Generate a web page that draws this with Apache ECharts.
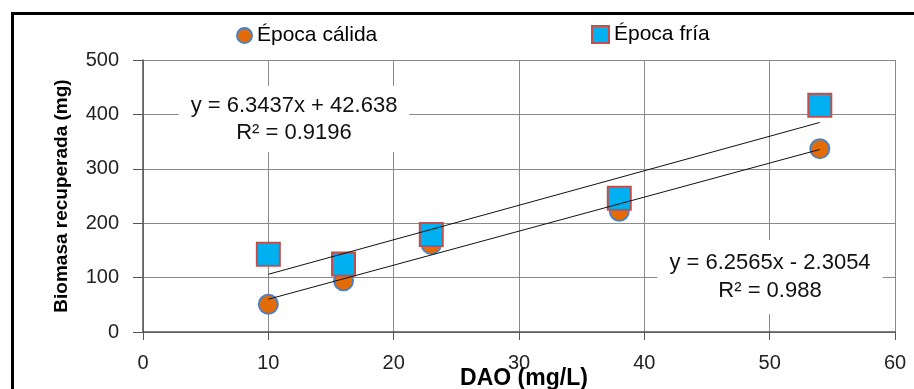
<!DOCTYPE html>
<html>
<head>
<meta charset="utf-8">
<script src="https://cdn.jsdelivr.net/npm/echarts@6/dist/echarts.min.js"></script>
<style>
html,body{margin:0;padding:0;background:#fff;}
#chart{width:914px;height:389px;}
</style>
</head>
<body>
<div id="chart"></div>
<script>
// Data
const dao = [10, 16, 23, 38, 54];
const calida = [51, 94, 161, 222, 337];
const fria = [143, 125, 179, 246, 417];
const calidaFit = [6.2565, -2.3054];   // slope, intercept
const friaFit = [6.3437, 42.638];
const fitRange = [10, 54];
const xTicks = [0, 10, 20, 30, 40, 50, 60];
const yTicks = [0, 100, 200, 300, 400, 500];
const seriesNames = ['Época cálida', 'Época fría'];
const eqCalida = ['y = 6.2565x - 2.3054', 'R² = 0.988'];
const eqFria = ['y = 6.3437x + 42.638', 'R² = 0.9196'];

const FONT = '"Liberation Sans", Arial, sans-serif';
const chart = echarts.init(document.getElementById('chart'), null, {renderer: 'canvas'});

function fitLine(fit) {
  return fitRange.map(x => [x, fit[0] * x + fit[1]]);
}

const option = {
  animation: false,
  backgroundColor: '#fff',
  grid: {left: 143, right: 19, top: 60, bottom: 57, show: false, containLabel: false, outerBoundsMode: 'none'},
  legend: [
    {data: [seriesNames[0]], left: 231, top: 20, itemWidth: 15, itemHeight: 15, itemGap: 0,
     textStyle: {fontFamily: FONT, fontSize: 21, color: '#000'}},
    {data: [seriesNames[1]], left: 586, top: 19, itemWidth: 17, itemHeight: 17, itemGap: 0,
     textStyle: {fontFamily: FONT, fontSize: 21, color: '#000'}}
  ],
  xAxis: {
    type: 'value', min: xTicks[0], max: xTicks[xTicks.length - 1], interval: 10,
    name: 'DAO (mg/L)', nameLocation: 'middle', nameGap: 35, nameMoveOverlap: false,
    nameTextStyle: {fontFamily: FONT, fontSize: 23, fontWeight: 'bold', color: '#000', padding: [0, 0, 0, 10]},
    axisLine: {show: true, onZero: false, lineStyle: {color: '#555', width: 1.5}},
    axisTick: {show: true, length: 8, lineStyle: {color: '#555'}},
    axisLabel: {fontFamily: FONT, fontSize: 20, color: '#222', margin: 21},
    splitLine: {show: true, lineStyle: {color: '#8a8a8a', width: 1}}
  },
  yAxis: {
    type: 'value', min: yTicks[0], max: yTicks[yTicks.length - 1], interval: 100,
    name: 'Biomasa recuperada (mg)', nameLocation: 'middle', nameGap: 72, nameRotate: 90, nameMoveOverlap: false,
    nameTextStyle: {fontFamily: FONT, fontSize: 19, fontWeight: 'bold', color: '#000'},
    axisLine: {show: true, onZero: false, lineStyle: {color: '#555', width: 1.5}},
    axisTick: {show: true, length: 10, lineStyle: {color: '#555'}},
    axisLabel: {fontFamily: FONT, fontSize: 20, color: '#222', margin: 24},
    splitLine: {show: true, lineStyle: {color: '#8a8a8a', width: 1}}
  },
  series: [
    {name: 'fitCalida', type: 'line', data: fitLine(calidaFit), symbol: 'none', silent: true,
     lineStyle: {color: '#111', width: 1}, z: 3},
    {name: 'fitFria', type: 'line', data: fitLine(friaFit), symbol: 'none', silent: true,
     lineStyle: {color: '#111', width: 1}, z: 3},
    {name: seriesNames[0], type: 'scatter', symbol: 'circle', symbolSize: 19,
     data: dao.map((x, i) => [x, calida[i]]),
     itemStyle: {color: '#E36C09', borderColor: '#4F81BD', borderWidth: 2, opacity: 1}, z: 2},
    {name: seriesNames[1], type: 'scatter', symbol: 'rect', symbolSize: 23,
     data: dao.map((x, i) => [x, fria[i]]),
     itemStyle: {color: '#00B0F0', borderColor: '#C0504D', borderWidth: 2, opacity: 1}, z: 2}
  ],
  graphic: [
    {type: 'rect', left: 10, top: 11, shape: {width: 1000, height: 1000},
     style: {fill: 'none', stroke: '#000', lineWidth: 3}, z: 100, silent: true},
    {type: 'line', shape: {x1: 143, y1: 60.5, x2: 895, y2: 60.5}, style: {stroke: '#8a8a8a', lineWidth: 1}, z: 0},
    {type: 'text', x: 294, y: 119, z: 50,
     style: {text: eqFria.join('\n'), fontFamily: FONT, fontSize: 22, fill: '#111', align: 'center',
             verticalAlign: 'middle', lineHeight: 27, backgroundColor: '#fff', padding: [6, 12, 6, 12]}},
    {type: 'text', x: 770, y: 277, z: 50,
     style: {text: eqCalida.join('\n'), fontFamily: FONT, fontSize: 22, fill: '#111', align: 'center',
             verticalAlign: 'middle', lineHeight: 28, backgroundColor: '#fff', padding: [10, 12, 8, 12]}}
  ]
};
chart.setOption(option);
</script>
</body>
</html>
